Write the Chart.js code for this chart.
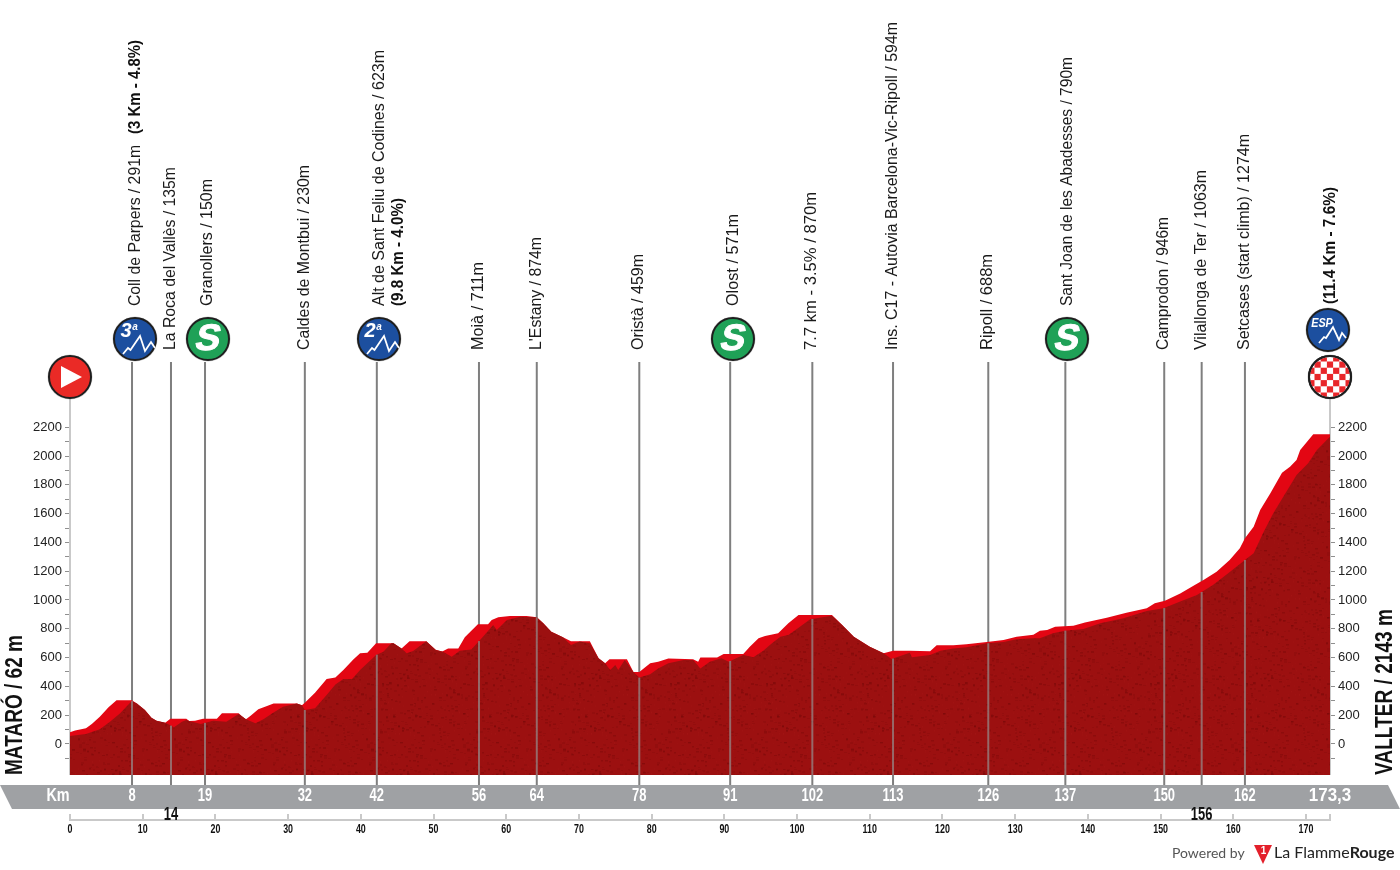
<!DOCTYPE html>
<html>
<head>
<meta charset="utf-8">
<title>Mataró - Vallter</title>
<script src="https://cdn.jsdelivr.net/npm/chart.js@4"></script>
<style>
    html, body { margin: 0; padding: 0; background: #fff; }
    #stage { display: block; }
</style>
</head>
<body>
<canvas id="stage" width="1400" height="870"></canvas>
<script>
// bright red top edge of the profile
const brightKm = [0, 0.7, 2.2, 3, 4.1, 5.3, 6.4, 8.5, 9.2, 10.3, 11.2, 11.9, 13.1, 13.8, 16, 16.4, 17.2, 18.3, 20.2, 20.9, 23.2, 23.6, 24.2, 24.8, 25.9, 27.1, 28, 31.2, 31.9, 32.3, 33.7, 35.3, 36.5, 37.6, 39, 39.9, 40.9, 42.1, 44.5, 45.6, 46.7, 49, 50.3, 51.2, 52, 53.4, 54.3, 56.1, 57.5, 58, 58.9, 60.5, 62.8, 64.2, 65.1, 66.2, 67.8, 68.9, 71.5, 72.7, 73.6, 74.2, 76.6, 77.5, 78.3, 79.8, 80.9, 82.3, 85.7, 86.4, 86.7, 89, 89.9, 92.6, 93.5, 94.7, 95.6, 97.4, 98.8, 100.2, 104.8, 106.2, 107.8, 110, 111.9, 113.2, 115.5, 118.3, 119.2, 121.5, 123.3, 126.1, 128.4, 130.2, 132.5, 133.4, 134.4, 135.5, 138, 139.6, 142.6, 145.3, 148.1, 149.2, 150.6, 152.7, 154.7, 155.9, 157.7, 159.5, 160.9, 161.6, 162.8, 163.7, 165.1, 166.7, 167.8, 168.7, 169.2, 171, 173.3];
const brightEle = [81, 93, 109, 139, 190, 255, 303, 303, 282, 236, 183, 162, 148, 176, 176, 160, 162, 176, 176, 213, 213, 194, 171, 194, 241, 264, 282, 282, 269, 287, 356, 451, 461, 514, 588, 630, 634, 699, 699, 664, 713, 713, 655, 642, 664, 664, 741, 831, 831, 861, 880, 889, 889, 880, 838, 780, 741, 713, 713, 595, 560, 588, 588, 500, 500, 560, 572, 593, 588, 572, 600, 600, 625, 625, 676, 734, 750, 769, 838, 896, 896, 826, 745, 676, 630, 648, 648, 644, 685, 685, 692, 708, 722, 745, 759, 787, 792, 815, 822, 843, 877, 912, 942, 977, 995, 1046, 1104, 1139, 1197, 1278, 1359, 1428, 1509, 1625, 1741, 1884, 1926, 1972, 2042, 2151, 2151];

// dark red body of the profile
const darkKm = [0, 2.2, 4.1, 5.5, 6.9, 8.5, 9.2, 10.3, 11.2, 11.9, 13.1, 13.8, 14.3, 15.4, 16, 16.4, 18, 19.7, 21.5, 23.2, 23.6, 24.2, 25.5, 26.6, 28, 29.3, 31.2, 31.9, 32.3, 33.7, 35.3, 36.5, 37.6, 38.8, 39.9, 42.1, 43.1, 44.2, 44.5, 45.6, 46.3, 47.2, 49, 50.3, 51.3, 52.5, 53.6, 55.2, 56.8, 58.2, 58.7, 60.1, 61.9, 64.2, 65.1, 66.2, 67.8, 68.9, 70.1, 71.5, 72.7, 73.6, 74.3, 75, 75.4, 76.3, 77.5, 78.3, 79.8, 80.9, 82.3, 84.4, 85.7, 86.7, 88, 89.6, 90.6, 92.6, 94, 95.4, 96.3, 97.7, 98.8, 100.4, 101.8, 104.8, 106.2, 107.8, 110, 111.9, 113, 115.5, 115.8, 118.3, 119.7, 121.5, 123.3, 126.1, 128.4, 130.2, 132.5, 133.4, 135.2, 136.8, 139.4, 141.7, 144.9, 148.1, 150.4, 152.7, 155, 157.2, 159.3, 161.6, 162.8, 164.2, 165.5, 166.9, 168.7, 170.3, 171.5, 173.3];
const darkEle = [55, 69, 102, 155, 213, 299, 282, 236, 183, 162, 148, 130, 116, 155, 166, 160, 139, 162, 155, 208, 194, 171, 144, 171, 218, 259, 282, 269, 236, 248, 340, 414, 451, 451, 514, 618, 641, 699, 699, 664, 630, 646, 713, 653, 641, 606, 648, 657, 745, 826, 792, 861, 884, 880, 838, 780, 741, 688, 711, 699, 595, 560, 514, 549, 514, 583, 500, 461, 484, 525, 560, 583, 583, 525, 572, 595, 572, 618, 602, 650, 690, 745, 757, 815, 866, 891, 826, 745, 676, 630, 590, 634, 602, 618, 648, 664, 671, 699, 708, 727, 734, 734, 769, 787, 799, 838, 873, 924, 942, 989, 1035, 1104, 1185, 1278, 1324, 1475, 1602, 1718, 1868, 1949, 2042, 2134];

const yTickValues = [-100, 0, 100, 200, 300, 400, 500, 600, 700, 800, 900, 1000, 1100, 1200, 1300, 1400, 1500, 1600, 1700, 1800, 1900, 2000, 2100, 2200];
const xTickValues = [0, 10, 20, 30, 40, 50, 60, 70, 80, 90, 100, 110, 120, 130, 140, 150, 160, 170, 173.3];

// checkpoints: where the line stands, and what the band says
const pointKm = [8.53, 13.89, 18.57, 32.3, 42.2, 56.25, 64.2, 78.3, 90.8, 102.1, 113.2, 126.3, 136.9, 150.5, 155.65, 161.6];
const pointKmText = ['8', '14', '19', '32', '42', '56', '64', '78', '91', '102', '113', '126', '137', '150', '156', '162'];
const pointNames = [
    'Coll de Parpers / 291m', 'La Roca del Vallès / 135m', 'Granollers / 150m', 'Caldes de Montbui / 230m',
    'Alt de Sant Feliu de Codines / 623m', 'Moià / 711m', "L'Estany / 874m", 'Oristà / 459m', 'Olost / 571m',
    '7.7 km - 3.5% / 870m', 'Ins. C17 - Autovia Barcelona-Vic-Ripoll / 594m', 'Ripoll / 688m',
    'Sant Joan de les Abadesses / 790m', 'Camprodon / 946m', 'Vilallonga de Ter / 1063m', 'Setcases (start climb) / 1274m'
];

// label layout, same order as pointNames
const nameX = [135.5, 171, 208, 305, 380, 479, 537, 639, 734, 812, 893, 988, 1068, 1164, 1202, 1245];
const nameBottom = [306, 350, 306, 350, 306, 350, 350, 350, 306, 350, 350, 350, 306, 350, 350, 350];
const nameLength = [161, 183, 127, 185, 256, 88, 113, 96, 92, 158, 328, 96, 249, 133, 180, 216];
const boldNotes = [
    { text: '(3 Km - 4.8%)', x: 136, bottom: 134, length: 94 },
    { text: '(9.8 Km - 4.0%)', x: 399, bottom: 306, length: 108 },
    { text: '(11.4 Km - 7.6%)', x: 1331, bottom: 304, length: 117 }
];

const SANS = '"Liberation Sans", sans-serif';
const LINE_GREY = '#7f7f7f';
const AXIS_GREY = '#c9c9c9';

function toPoints(xs, ys) {
    return xs.map((x, i) => ({ x: x, y: ys[i] }));
}

function eleAt(km) {
    for (let i = 1; i < darkKm.length; i++) {
        if (km <= darkKm[i]) {
            const t = (km - darkKm[i - 1]) / (darkKm[i] - darkKm[i - 1]);
            return darkEle[i - 1] + t * (darkEle[i] - darkEle[i - 1]);
        }
    }
    return darkEle[darkEle.length - 1];
}

// mottled fill for the dark body, a fixed tile
function bodyPattern(ctx) {
    const tile = document.createElement('canvas');
    tile.width = 96;
    tile.height = 96;
    const t = tile.getContext('2d');
    t.fillStyle = '#9c1010';
    t.fillRect(0, 0, 96, 96);
    let seed = 7;
    for (let i = 0; i < 700; i++) {
        seed = (seed * 137 + 59) % 2053;
        const x = seed % 96;
        seed = (seed * 137 + 59) % 2053;
        const y = seed % 96;
        t.fillStyle = i % 3 ? 'rgba(70,0,0,0.08)' : 'rgba(190,40,40,0.08)';
        t.fillRect(x, y, 1 + i % 3, 1 + i % 2);
    }
    return ctx.createPattern(tile, 'repeat');
}

function upText(ctx, text, x, bottom, font, color, length) {
    ctx.save();
    ctx.translate(x, bottom);
    ctx.rotate(-Math.PI / 2);
    ctx.font = font;
    ctx.scale(length / ctx.measureText(text).width, 1);
    ctx.fillStyle = color;
    ctx.textAlign = 'left';
    ctx.textBaseline = 'middle';
    ctx.fillText(text, 0, 0);
    ctx.restore();
}

function flatText(ctx, text, x, y, font, color, squeeze) {
    ctx.save();
    ctx.translate(x, y);
    ctx.scale(squeeze || 1, 1);
    ctx.font = font;
    ctx.fillStyle = color;
    ctx.textAlign = 'center';
    ctx.textBaseline = 'middle';
    ctx.fillText(text, 0, 0);
    ctx.restore();
}

function disc(ctx, x, y, fill) {
    ctx.beginPath();
    ctx.arc(x, y, 22.5, 0, Math.PI * 2);
    ctx.fillStyle = 'rgba(120,120,120,0.35)';
    ctx.fill();
    ctx.beginPath();
    ctx.arc(x, y, 21, 0, Math.PI * 2);
    ctx.fillStyle = fill;
    ctx.fill();
    ctx.lineWidth = 2;
    ctx.strokeStyle = '#1e1e1e';
    ctx.stroke();
}

function ridge(ctx, x, y, pts) {
    ctx.beginPath();
    pts.forEach((p, i) => i ? ctx.lineTo(x + p[0], y + p[1]) : ctx.moveTo(x + p[0], y + p[1]));
    ctx.strokeStyle = '#fff';
    ctx.lineWidth = 1.8;
    ctx.stroke();
}

function climbBadge(ctx, x, y, cat) {
    disc(ctx, x, y, '#1c4f9f');
    ridge(ctx, x, y, [[-12, 15], [-7, 9], [-4.5, 11], [5, -3], [10, 12], [16, 3], [20, 9]]);
    flatText(ctx, cat, x - 9, y - 8, 'italic bold 20px ' + SANS, '#fff');
    flatText(ctx, 'a', x, y - 12, 'italic bold 10px ' + SANS, '#fff');
}

function sprintBadge(ctx, x, y) {
    disc(ctx, x, y, '#1fa157');
    ctx.save();
    ctx.translate(x, y + 1);
    ctx.transform(1, 0, -0.22, 1, 0, 0);
    ctx.font = 'bold 37px ' + SANS;
    ctx.textAlign = 'center';
    ctx.textBaseline = 'middle';
    ctx.fillStyle = '#fff';
    ctx.strokeStyle = '#fff';
    ctx.lineWidth = 1;
    ctx.fillText('S', 0, 0);
    ctx.strokeText('S', 0, 0);
    ctx.restore();
}

function startBadge(ctx, x, y) {
    disc(ctx, x, y, '#ea2a26');
    ctx.beginPath();
    ctx.moveTo(x - 9, y - 11);
    ctx.lineTo(x + 12, y);
    ctx.lineTo(x - 9, y + 11);
    ctx.closePath();
    ctx.fillStyle = '#fff';
    ctx.fill();
}

function specialBadge(ctx, x, y) {
    disc(ctx, x, y, '#1c4f9f');
    ridge(ctx, x, y, [[-9, 13], [-4, 7], [-2, 8], [5, -3], [11, 10], [14, 3], [18, 8]]);
    flatText(ctx, 'ESP', x - 6, y - 6, 'italic bold 12px ' + SANS, '#fff', 0.9);
}

function finishBadge(ctx, x, y) {
    disc(ctx, x, y, '#fff');
    ctx.save();
    ctx.beginPath();
    ctx.arc(x, y, 20, 0, Math.PI * 2);
    ctx.clip();
    ctx.fillStyle = '#e8262a';
    for (let i = -3; i <= 3; i++) {
        for (let j = -3; j <= 3; j++) {
            if ((i + j) % 2 === 0) ctx.fillRect(x + i * 6.2 - 3.1, y + j * 6.2 - 3.1, 6.2, 6.2);
        }
    }
    ctx.restore();
    ctx.beginPath();
    ctx.arc(x, y, 21, 0, Math.PI * 2);
    ctx.lineWidth = 2;
    ctx.strokeStyle = '#1e1e1e';
    ctx.stroke();
}

function drawLogo(ctx) {
    ctx.save();
    ctx.textBaseline = 'middle';
    ctx.textAlign = 'left';
    ctx.font = '14px Lato, sans-serif';
    ctx.fillStyle = '#555';
    ctx.fillText('Powered by', 1172, 853);

    ctx.beginPath();
    ctx.moveTo(1254, 845);
    ctx.lineTo(1272, 845);
    ctx.lineTo(1263, 864);
    ctx.closePath();
    ctx.fillStyle = '#e3202b';
    ctx.fill();
    flatText(ctx, '1', 1263.5, 851, 'bold 10px ' + SANS, '#fff');

    ctx.font = '16px Lato, sans-serif';
    ctx.fillStyle = '#222';
    ctx.fillText('La Flamme', 1274, 853);
    const w = ctx.measureText('La Flamme').width;
    ctx.font = 'bold 16px Lato, sans-serif';
    ctx.fillText('Rouge', 1274 + w, 853);
    ctx.restore();
}

const profilePlugin = {
    id: 'profile',
    beforeDraw(chart) {
        const ctx = chart.ctx;
        ctx.save();
        ctx.fillStyle = '#fff';
        ctx.fillRect(0, 0, chart.width, chart.height);
        // grey km band
        ctx.beginPath();
        ctx.moveTo(0, 785);
        ctx.lineTo(1388, 785);
        ctx.lineTo(1400, 809);
        ctx.lineTo(12, 809);
        ctx.closePath();
        ctx.fillStyle = '#9fa1a4';
        ctx.fill();
        ctx.restore();
    },
    beforeDatasetsDraw(chart) {
        const ctx = chart.ctx;
        const xs = chart.scales.x;
        ctx.save();
        // axis posts either side
        ctx.strokeStyle = AXIS_GREY;
        ctx.lineWidth = 2;
        [0, 173.3].forEach(km => {
            const px = xs.getPixelForValue(km);
            ctx.beginPath();
            ctx.moveTo(px, 398);
            ctx.lineTo(px, 775);
            ctx.stroke();
        });
        ctx.strokeStyle = LINE_GREY;
        pointKm.forEach(km => {
            const px = xs.getPixelForValue(km);
            ctx.beginPath();
            ctx.moveTo(px, 362);
            ctx.lineTo(px, 785);
            ctx.stroke();
        });
        ctx.restore();
    },
    beforeDatasetDraw(chart, args) {
        if (args.index === 1) {
            chart.ctx.save();
            chart.ctx.globalCompositeOperation = 'multiply';
        }
    },
    afterDatasetDraw(chart, args) {
        const ctx = chart.ctx;
        if (args.index === 1) {
            ctx.restore();
            return;
        }
        const xs = chart.scales.x;
        const ys = chart.scales.y;
        ctx.save();
        ctx.strokeStyle = 'rgba(150,135,135,0.75)';
        ctx.lineWidth = 2;
        pointKm.forEach(km => {
            const px = xs.getPixelForValue(km);
            ctx.beginPath();
            ctx.moveTo(px, ys.getPixelForValue(eleAt(km)));
            ctx.lineTo(px, 775);
            ctx.stroke();
        });
        ctx.restore();
    },
    afterDraw(chart) {
        const ctx = chart.ctx;
        const xs = chart.scales.x;
        ctx.save();

        // km scale numbers, squeezed like the original type
        xs.ticks.forEach(t => {
            if (t.value % 10 === 0) {
                flatText(ctx, String(t.value), xs.getPixelForValue(t.value), 830, 'bold 12px ' + SANS, '#111', 0.74);
            }
        });

        // band captions
        flatText(ctx, 'Km', 58, 796, 'bold 18px ' + SANS, '#fff', 0.8);
        pointKm.forEach((km, i) => {
            const px = xs.getPixelForValue(km);
            const low = pointKmText[i] === '14' || pointKmText[i] === '156';
            if (low) {
                flatText(ctx, pointKmText[i], px, 815.5, 'bold 18px ' + SANS, '#111', 0.72);
            } else {
                flatText(ctx, pointKmText[i], px, 796, 'bold 18px ' + SANS, '#fff', 0.72);
            }
        });
        flatText(ctx, '173,3', 1330, 796, 'bold 18px ' + SANS, '#fff', 0.94);

        // climb names
        pointNames.forEach((name, i) => {
            upText(ctx, name, nameX[i], nameBottom[i], '16px ' + SANS, '#1a1a1a', nameLength[i]);
        });
        boldNotes.forEach(n => upText(ctx, n.text, n.x, n.bottom, 'bold 16px ' + SANS, '#111', n.length));

        // town names at both ends
        upText(ctx, 'MATARÓ / 62 m', 15, 775, 'bold 24px ' + SANS, '#111', 140);
        upText(ctx, 'VALLTER / 2143 m', 1385, 775, 'bold 24px ' + SANS, '#111', 166);

        // badges
        startBadge(ctx, 70, 377);
        climbBadge(ctx, 135, 339, '3');
        sprintBadge(ctx, 208, 339);
        climbBadge(ctx, 379, 339, '2');
        sprintBadge(ctx, 733, 339);
        sprintBadge(ctx, 1067, 339);
        specialBadge(ctx, 1328, 330);
        finishBadge(ctx, 1330, 377);

        drawLogo(ctx);
        ctx.restore();
    }
};

function yAxis(position) {
    return {
        type: 'linear',
        position: position,
        min: -527.8,
        max: 2388.9,
        afterBuildTicks(scale) {
            scale.ticks = yTickValues.map(v => ({ value: v }));
        },
        afterFit(scale) {
            scale.width = 70;
            scale.paddingTop = 0;
            scale.paddingBottom = 0;
        },
        border: { display: false },
        grid: { drawOnChartArea: false, color: '#8f8f8f', tickLength: 5, lineWidth: 1 },
        ticks: {
            autoSkip: false,
            padding: 3,
            color: '#222',
            font: { family: 'Liberation Sans', size: 13 },
            callback: v => (v % 200 === 0 ? String(v) : '')
        }
    };
}

const stageCtx = document.getElementById('stage').getContext('2d');

new Chart(stageCtx, {
    type: 'line',
    data: {
        datasets: [
            {
                label: 'Body',
                data: toPoints(darkKm, darkEle),
                yAxisID: 'y',
                borderWidth: 0,
                pointRadius: 0,
                tension: 0,
                backgroundColor: bodyPattern(stageCtx),
                fill: { value: -215 }
            },
            {
                label: 'Edge',
                data: toPoints(brightKm, brightEle),
                yAxisID: 'y',
                borderWidth: 0,
                pointRadius: 0,
                tension: 0,
                backgroundColor: '#e30613',
                fill: { value: -215 }
            }
        ]
    },
    options: {
        responsive: false,
        animation: false,
        events: [],
        layout: { padding: { top: 400 } },
        plugins: { legend: { display: false }, tooltip: { enabled: false } },
        scales: {
            x: {
                type: 'linear',
                position: 'bottom',
                min: 0,
                max: 173.3,
                afterBuildTicks(scale) {
                    scale.ticks = xTickValues.map(v => ({ value: v }));
                },
                afterFit(scale) {
                    scale.height = 50;
                    scale.paddingLeft = 0;
                    scale.paddingRight = 0;
                },
                border: { color: AXIS_GREY, width: 2 },
                grid: { drawOnChartArea: false, color: AXIS_GREY, lineWidth: 2, tickLength: -6 },
                ticks: { display: false, autoSkip: false, maxRotation: 0 }
            },
            y: yAxis('left'),
            yRight: yAxis('right')
        }
    },
    plugins: [profilePlugin]
});
</script>
</body>
</html>
